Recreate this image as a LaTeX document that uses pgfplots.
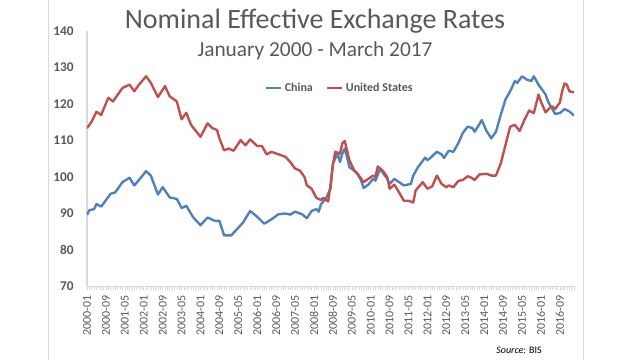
\documentclass[border=0pt]{standalone}
\usepackage{pgfplots}
\pgfplotsset{compat=1.18}
\usepackage{fontspec}
\setmainfont{Carlito}
\definecolor{cnblue}{HTML}{4F81BD}
\definecolor{usred}{HTML}{C0504D}
\definecolor{txt}{HTML}{595959}
\definecolor{axgray}{HTML}{D9D9D9}
\begin{document}
\begin{tikzpicture}[x=0.75pt,y=0.75pt]
\path[use as bounding box] (0,0) rectangle (640,360);
\draw[axgray, line width=0.6pt] (48,0) -- (48,360);
\draw[axgray, line width=0.6pt] (583,0) -- (583,360);
\node[anchor=base, text=txt, font=\fontsize{21}{24}\selectfont] at (315,331) {Nominal Effective Exchange Rates};
\node[anchor=base, text=txt, font=\fontsize{16}{18}\selectfont] at (315,303) {January 2000 - March 2017};
\node[anchor=base east, text=black, font=\fontsize{7.5}{9}\selectfont, inner sep=0pt] at (542,6) {\textit{Source:} BIS};
\begin{axis}[
  at={(65.25pt,55.125pt)}, anchor=south west,
  width=365.25pt, height=191.6pt, scale only axis,
  xmin=0, xmax=206, ymin=70, ymax=140,
  axis lines*=left,
  axis line style={axgray, line width=0.8pt},
  ytick={70,80,...,140},
  ytick style={draw=none},
  xtick={0,8,...,200},
  minor xtick={0,1,...,206},
  tick align=outside,
  major tick length=3pt, minor tick length=3pt,
  xtick style={axgray, line width=0.4pt},
  minor tick style={axgray, line width=0.4pt},
  xticklabels={2000-01,2000-09,2001-05,2002-01,2002-09,2003-05,2004-01,2004-09,2005-05,2006-01,2006-09,2007-05,2008-01,2008-09,2009-05,2010-01,2010-09,2011-05,2012-01,2012-09,2013-05,2014-01,2014-09,2015-05,2016-01,2016-09},
  xticklabel style={rotate=90, anchor=east, font=\fontsize{9}{10}\selectfont, text=txt},
  yticklabel style={font=\bfseries\fontsize{10}{12}\selectfont, text=txt, xshift=-3.5pt},
  /pgf/number format/assume math mode=true,
  legend style={at={(0.52,0.777)}, anchor=center, draw=none, fill=none,
    font=\bfseries\fontsize{9}{10}\selectfont, text=txt,
    legend columns=2, /tikz/every even column/.append style={column sep=8pt}},
  legend image code/.code={\draw[#1] (0pt,0pt) -- (11pt,0pt);},
]
\addplot[cnblue, line width=1.8pt, line join=round] coordinates {
(0,89.6) (1,90.9) (3,91.2) (4,92.6) (6,91.9) (10,95.4) (12,95.8) (15,98.6) (18,99.8) (20,97.7)
(22,99.2) (25,101.6) (27,100.4) (30,95.2) (32,97.2) (35,94.4) (38,94.0) (40,91.5) (42,92.1)
(45,88.9) (48,86.8) (51,88.9) (54,88.0) (56,88.0) (58,84.0) (61,84.0) (66,87.5) (69,90.7)
(72,89.1) (75,87.2) (78,88.4) (81,89.8) (84,90.0) (86,89.7) (88,90.5) (91,89.8) (93,88.7)
(95,90.7) (97,91.2) (98,90.5) (99,92.6) (101,94.0) (103,96.8) (104,103.7) (106,106.4)
(107,104.1) (108,106.4) (109,107.8) (110,105.5) (111,102.7) (114,101.3) (116,99.0) (117,97.0)
(119,97.9) (121,99.5) (122,99.0) (124,102.3) (125,101.3) (127,99.5) (128,98.1) (130,99.5)
(132,98.6) (134,97.7) (137,98.1) (138,100.4) (140,102.7) (143,105.3) (144,104.6) (145,105.1)
(148,106.9) (150,106.2) (151,105.2) (153,107.2) (155,106.9) (157,109.2) (159,112.1) (161,113.8)
(163,113.4) (164,112.4) (167,115.6) (169,112.6) (171,110.6) (173,112.4) (175,117.0) (177,121.2)
(179,123.5) (181,126.3) (182,125.8) (184,127.6) (186,126.7) (188,126.3) (189,127.6) (191,125.3)
(194,122.6) (195,120.7) (197,118.4) (198,117.3) (200,117.5) (202,118.6) (204,118.0) (206,116.8)
};
\addlegendentry{China}
\addplot[usred, line width=1.8pt, line join=round] coordinates {
(0,113.4) (2,115.2) (4,117.9) (6,117.0) (9,121.7) (11,120.7) (15,124.4) (18,125.3) (20,123.5)
(22,125.3) (25,127.6) (27,125.8) (30,121.9) (33,124.9) (35,122.1) (38,120.7) (40,115.8)
(42,117.6) (44,114.3) (48,111.0) (51,114.7) (53,113.4) (55,112.9) (56,110.6) (58,107.3)
(60,107.8) (62,107.2) (65,110.1) (67,108.7) (69,110.3) (72,108.5) (74,108.5) (76,106.2)
(78,106.9) (82,106.0) (84,105.5) (86,104.1) (88,102.3) (90,101.8) (92,100.0) (93,97.7)
(95,96.8) (97,94.3) (99,93.7) (100,94.3) (102,93.3) (103,97.7) (104,103.2) (105,106.9)
(107,106.4) (108,109.2) (109,109.9) (111,104.6) (113,101.8) (115,100.4) (117,98.6) (119,99.5)
(121,100.4) (122,100.0) (123,102.9) (125,101.8) (127,100.0) (128,96.8) (130,97.9) (132,95.8)
(134,93.5) (136,93.5) (138,93.0) (139,96.3) (142,98.6) (144,96.8) (146,97.4) (148,100.4)
(150,98.1) (152,97.2) (153,97.7) (155,97.2) (157,98.9) (159,99.2) (161,100.2) (162,100.0)
(164,99.2) (166,100.7) (169,100.9) (171,100.4) (173,100.4) (175,103.7) (177,108.7) (179,113.8)
(181,114.3) (183,112.6) (185,115.6) (187,118.2) (189,117.5) (191,122.6) (192,120.7) (194,117.7)
(196,119.1) (197,119.3) (198,118.6) (200,120.4) (201,123.5) (202,125.6) (203,125.3) (204,123.5)
(206,123.2)
};
\addlegendentry{United States}
\end{axis}
\end{tikzpicture}
\end{document}
